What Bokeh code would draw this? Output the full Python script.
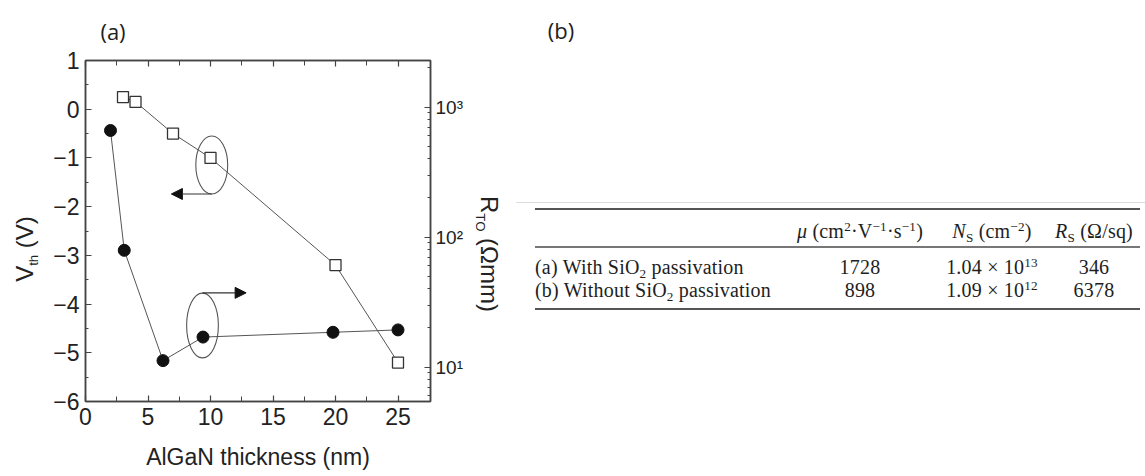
from bokeh.plotting import figure
from bokeh.models import (Range1d, LogScale, LinearAxis, LogAxis, FixedTicker,
                          Arrow, NormalHead, Div, CustomJSTickFormatter)
from bokeh.layouts import row
from bokeh.embed import file_html
from bokeh.resources import INLINE

# ---------------- data: panel (a) ----------------
thickness_vth = [3, 4, 7, 10, 20, 25]            # nm (open squares, left axis)
vth = [0.25, 0.15, -0.5, -1.0, -3.2, -5.2]        # V
thickness_rto = [2, 3.1, 6.2, 9.4, 19.8, 25]      # nm (filled circles, right axis)
rto = [660, 79, 11.2, 17, 18.5, 19.3]             # ohm*mm

x_ticks = [0, 5, 10, 15, 20, 25]
x_minor = [2.5, 7.5, 12.5, 17.5, 22.5]
vth_ticks = [-6, -5, -4, -3, -2, -1, 0, 1]
vth_tick_labels = ["\u22126", "\u22125", "\u22124", "\u22123", "\u22122", "\u22121", "0", "1"]
vth_minor = [-5.5, -4.5, -3.5, -2.5, -1.5, -0.5, 0.5]
rto_ticks = [10, 100, 1000]
rto_tick_labels = ["10\u00b9", "10\u00b2", "10\u00b3"]
rto_minor = [6, 7, 8, 9, 20, 30, 40, 50, 60, 70, 80, 90,
             200, 300, 400, 500, 600, 700, 800, 900, 2000]

x_title = "AlGaN thickness (nm)"
vth_title = "V<span class='sb'>th</span> (V)"
rto_title = "R<span class='sb'>TO</span> (\u03a9mm)"
panel_a = "(a)"

# callouts (ellipse around a point + arrow toward its axis)
callout_x = [10.1, 9.36]
callout_y = [-1.145, -4.44]
callout_w = [2.55, 2.54]
callout_h = [1.19, 1.33]
arrow_x_start = [10.1, 9.36]
arrow_x_end = [6.87, 12.85]
arrow_y = [-1.74, -3.77]

# ---------------- data: panel (b) ----------------
panel_b = "(b)"
table_headers = ["<i>\u03bc</i> (cm<span class='sp'>2</span>\u00b7V<span class='sp'>\u22121</span>\u00b7s<span class='sp'>\u22121</span>)",
                 "<i>N</i><span class='sb'>S</span> (cm<span class='sp'>\u22122</span>)",
                 "<i>R</i><span class='sb'>S</span> (\u03a9/sq)"]
row_labels = ["(a) With SiO<span class='sb'>2</span> passivation",
              "(b) Without SiO<span class='sb'>2</span> passivation"]
mobility = [1728, 898]
ns_mantissa = [1.04, 1.09]
ns_exponent = [13, 12]
sheet_resistance = [346, 6378]

# ---------------- figure (a) ----------------
FL, FR, FT, FB = 85, 430, 60, 401
W_A = 500

p = figure(width=W_A, height=476, x_range=Range1d(0, 27.6), y_range=Range1d(-6, 1),
           output_backend="svg", toolbar_location=None,
           min_border_left=FL, min_border_right=W_A - FR,
           min_border_top=FT, min_border_bottom=476 - FB)
p.extra_y_ranges = {"r": Range1d(5.43, 2280)}
p.extra_y_scales = {"r": LogScale()}
p.xgrid.visible = False
p.ygrid.visible = False
p.outline_line_color = "#444"
p.outline_line_width = 1.5
p.background_fill_color = "white"
p.border_fill_color = "white"

AX = "#444"
TICK_FONT = "Liberation Sans"


def style_axis(ax, tin, mtin, fs="23px"):
    ax.axis_line_color = AX
    ax.axis_line_width = 1.5
    ax.major_tick_line_color = AX
    ax.minor_tick_line_color = AX
    ax.major_tick_line_width = 1.2
    ax.minor_tick_line_width = 1.0
    ax.major_tick_in = tin
    ax.major_tick_out = 0
    ax.minor_tick_in = mtin
    ax.minor_tick_out = 0
    ax.major_label_text_font = TICK_FONT
    ax.major_label_text_font_size = fs
    ax.major_label_text_color = "#222"


xa = p.xaxis[0]
xa.ticker = FixedTicker(ticks=x_ticks, minor_ticks=x_minor)
style_axis(xa, 6, 5)
xa.major_label_standoff = 6
xa.axis_label = x_title
xa.axis_label_text_font = TICK_FONT
xa.axis_label_text_font_size = "23px"
xa.axis_label_text_font_style = "normal"
xa.axis_label_text_color = "#222"
xa.axis_label_standoff = 16

ya = p.yaxis[0]
ya.ticker = FixedTicker(ticks=vth_ticks, minor_ticks=vth_minor)
ya.major_label_overrides = dict(zip(vth_ticks, vth_tick_labels))
style_axis(ya, 6, 3)
ya.major_label_standoff = 6

top = LinearAxis(ticker=FixedTicker(ticks=x_ticks, minor_ticks=x_minor),
                 formatter=CustomJSTickFormatter(code="return ''"))
style_axis(top, 6, 5, fs="0px")
top.major_label_text_color = None
top.major_label_standoff = 0
p.add_layout(top, "above")

ra = LogAxis(y_range_name="r", ticker=FixedTicker(ticks=rto_ticks, minor_ticks=rto_minor))
ra.major_label_overrides = dict(zip(rto_ticks, rto_tick_labels))
style_axis(ra, 6, 3, fs="19px")
ra.major_label_standoff = 5
p.add_layout(ra, "right")

# series
p.line(thickness_vth, vth, line_color="#555", line_width=1)
p.scatter(thickness_vth, vth, marker="square", size=11, fill_color="white",
          line_color="#333", line_width=1.3)
p.line(thickness_rto, rto, y_range_name="r", line_color="#555", line_width=1)
p.scatter(thickness_rto, rto, y_range_name="r", marker="circle", size=12,
          fill_color="#111", line_color="#111")

# callouts
p.ellipse(x=callout_x, y=callout_y, width=callout_w, height=callout_h,
          fill_color=None, line_color="#555", line_width=1.1)
for xs, xe, yy in zip(arrow_x_start, arrow_x_end, arrow_y):
    p.add_layout(Arrow(end=NormalHead(size=11, fill_color="#111", line_color="#111"),
                       x_start=xs, y_start=yy, x_end=xe, y_end=yy,
                       line_color="#333", line_width=1.2))

# ---------------- html: table (b) + rotated titles of (a) ----------------
col_centers = [360, 492, 594]
label_left = 35
header_y = 231
row_y = [267, 290]


def cell(html, x, y, center=True):
    tr = "translate(-50%,-50%)" if center else "translate(0,-50%)"
    return f"<div class='t' style='left:{x}px;top:{y}px;transform:{tr};'>{html}</div>"


parts = ["""<style>
.t{position:absolute;white-space:nowrap;font-family:'Liberation Serif','Times New Roman',serif;
   font-size:20px;color:#1e1e1e;line-height:1;letter-spacing:0.2px;}
.sp{font-size:0.66em;position:relative;top:-0.5em;}
.sb{font-size:0.66em;position:relative;top:0.3em;}
.r{position:absolute;}
.ov{position:absolute;left:-500px;top:0px;width:500px;height:476px;overflow:visible;
    pointer-events:none;z-index:20;}
.vt{position:absolute;white-space:nowrap;font-family:'Liberation Sans',Arial,sans-serif;
    font-size:24px;line-height:1;color:#222;}
.vt .sb{font-size:0.55em;position:relative;top:0.4em;}
</style>"""]
parts.append("<div style='position:relative;width:645px;height:476px;overflow:visible;'>")
# panel (b) label and rules
parts.append(f"<div style='position:absolute;left:61px;top:31px;transform:translate(-50%,-50%);"
             f"font-family:\"Open Sans\",sans-serif;font-size:22px;color:#1e1e1e;white-space:nowrap;'>{panel_b}</div>")
parts.append("<div class='r' style='left:16px;top:202px;width:629px;height:1px;background:#dcdcdc;'></div>")
parts.append("<div class='r' style='left:35px;top:208px;width:605px;height:2px;background:#555;'></div>")
parts.append("<div class='r' style='left:35px;top:246px;width:605px;height:2px;background:#777;'></div>")
parts.append("<div class='r' style='left:35px;top:308px;width:605px;height:2px;background:#555;'></div>")
for h, cx in zip(table_headers, col_centers):
    parts.append(cell(h, cx, header_y))
for i, ry in enumerate(row_y):
    parts.append(cell(row_labels[i], label_left, ry, center=False))
    parts.append(cell(str(mobility[i]), col_centers[0], ry))
    parts.append(cell(f"{ns_mantissa[i]:.2f} \u00d7 10<span class='sp'>{ns_exponent[i]}</span>",
                      col_centers[1], ry))
    parts.append(cell(str(sheet_resistance[i]), col_centers[2], ry))
# overlay over panel (a): panel letter and the two rotated axis titles
parts.append("<div class='ov'>")
parts.append(f"<div class='vt' style='left:113px;top:31px;transform:translate(-50%,-50%);"
             f"font-family:\"Open Sans\",sans-serif;font-size:22px;color:#1e1e1e;'>{panel_a}</div>")
parts.append(f"<div class='vt' style='left:25px;top:249px;transform:translate(-50%,-50%) rotate(-90deg);'>{vth_title}</div>")
parts.append(f"<div class='vt' style='left:489px;top:254px;transform:translate(-50%,-50%) rotate(90deg);'>{rto_title}</div>")
parts.append("</div>")
parts.append("</div>")

div = Div(text="".join(parts), width=645, height=476, margin=(0, 0, 0, 0),
          styles={"overflow": "visible"})

layout = row(p, div)
open("out.html", "w").write(file_html(layout, INLINE))
